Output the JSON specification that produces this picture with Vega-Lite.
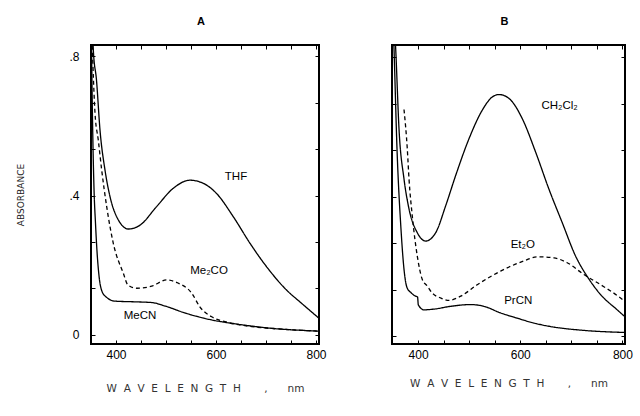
{
  "$schema": "https://vega.github.io/schema/vega-lite/v6.json",
  "background": "white",
  "padding": {"left": 15, "top": 14, "right": 5, "bottom": 5},
  "config": {
    "view": {"stroke": "black", "strokeWidth": 2},
    "font": "Liberation Sans",
    "axis": {"domain": false, "grid": false, "tickColor": "black", "tickWidth": 1, "labelColor": "black", "labelFont": "Liberation Sans", "labelFontSize": 12, "titleFont": "DejaVu Sans", "titleFontWeight": "normal", "titleColor": "#222"},
    "title": {"fontSize": 11, "fontWeight": "bold", "font": "Liberation Sans", "offset": 18}
  },
  "datasets": {
    "curves": [
      {"panel":"A","solvent":"THF","nm":352,"abs":0.92},
      {"panel":"A","solvent":"THF","nm":354.7,"abs":0.817},
      {"panel":"A","solvent":"THF","nm":361,"abs":0.731},
      {"panel":"A","solvent":"THF","nm":368,"abs":0.588},
      {"panel":"A","solvent":"THF","nm":378,"abs":0.473},
      {"panel":"A","solvent":"THF","nm":388,"abs":0.397},
      {"panel":"A","solvent":"THF","nm":404.7,"abs":0.33},
      {"panel":"A","solvent":"THF","nm":424.7,"abs":0.304},
      {"panel":"A","solvent":"THF","nm":448,"abs":0.315},
      {"panel":"A","solvent":"THF","nm":481,"abs":0.368},
      {"panel":"A","solvent":"THF","nm":514.7,"abs":0.421},
      {"panel":"A","solvent":"THF","nm":548,"abs":0.444},
      {"panel":"A","solvent":"THF","nm":574.7,"abs":0.435},
      {"panel":"A","solvent":"THF","nm":601,"abs":0.406},
      {"panel":"A","solvent":"THF","nm":634.7,"abs":0.339},
      {"panel":"A","solvent":"THF","nm":668,"abs":0.263},
      {"panel":"A","solvent":"THF","nm":701,"abs":0.196},
      {"panel":"A","solvent":"THF","nm":741,"abs":0.129},
      {"panel":"A","solvent":"THF","nm":771,"abs":0.091},
      {"panel":"A","solvent":"THF","nm":805,"abs":0.049},
      {"panel":"A","solvent":"Me2CO","nm":352,"abs":0.85},
      {"panel":"A","solvent":"Me2CO","nm":358,"abs":0.637},
      {"panel":"A","solvent":"Me2CO","nm":364.6,"abs":0.559},
      {"panel":"A","solvent":"Me2CO","nm":371.4,"abs":0.473},
      {"panel":"A","solvent":"Me2CO","nm":381.4,"abs":0.368},
      {"panel":"A","solvent":"Me2CO","nm":394.6,"abs":0.263},
      {"panel":"A","solvent":"Me2CO","nm":414.6,"abs":0.177},
      {"panel":"A","solvent":"Me2CO","nm":424,"abs":0.143},
      {"panel":"A","solvent":"Me2CO","nm":441.4,"abs":0.134},
      {"panel":"A","solvent":"Me2CO","nm":471.4,"abs":0.14},
      {"panel":"A","solvent":"Me2CO","nm":501.4,"abs":0.158},
      {"panel":"A","solvent":"Me2CO","nm":524,"abs":0.149},
      {"panel":"A","solvent":"Me2CO","nm":551.4,"abs":0.12},
      {"panel":"A","solvent":"Me2CO","nm":568,"abs":0.08},
      {"panel":"A","solvent":"Me2CO","nm":591.4,"abs":0.052},
      {"panel":"A","solvent":"Me2CO","nm":618,"abs":0.038},
      {"panel":"A","solvent":"Me2CO","nm":671.4,"abs":0.024},
      {"panel":"A","solvent":"Me2CO","nm":738,"abs":0.016},
      {"panel":"A","solvent":"Me2CO","nm":805,"abs":0.011},
      {"panel":"A","solvent":"MeCN","nm":350,"abs":0.95},
      {"panel":"A","solvent":"MeCN","nm":353,"abs":0.62},
      {"panel":"A","solvent":"MeCN","nm":356,"abs":0.42},
      {"panel":"A","solvent":"MeCN","nm":359,"abs":0.32},
      {"panel":"A","solvent":"MeCN","nm":362,"abs":0.24},
      {"panel":"A","solvent":"MeCN","nm":366,"abs":0.17},
      {"panel":"A","solvent":"MeCN","nm":372,"abs":0.125},
      {"panel":"A","solvent":"MeCN","nm":381,"abs":0.108},
      {"panel":"A","solvent":"MeCN","nm":398,"abs":0.097},
      {"panel":"A","solvent":"MeCN","nm":438,"abs":0.095},
      {"panel":"A","solvent":"MeCN","nm":471.4,"abs":0.093},
      {"panel":"A","solvent":"MeCN","nm":498,"abs":0.083},
      {"panel":"A","solvent":"MeCN","nm":538,"abs":0.063},
      {"panel":"A","solvent":"MeCN","nm":591.4,"abs":0.043},
      {"panel":"A","solvent":"MeCN","nm":638,"abs":0.032},
      {"panel":"A","solvent":"MeCN","nm":704,"abs":0.02},
      {"panel":"A","solvent":"MeCN","nm":805,"abs":0.011},
      {"panel":"B","solvent":"CH2Cl2","nm":350,"abs":0.98},
      {"panel":"B","solvent":"CH2Cl2","nm":356.2,"abs":0.825},
      {"panel":"B","solvent":"CH2Cl2","nm":362.7,"abs":0.595},
      {"panel":"B","solvent":"CH2Cl2","nm":372.5,"abs":0.451},
      {"panel":"B","solvent":"CH2Cl2","nm":382.3,"abs":0.365},
      {"panel":"B","solvent":"CH2Cl2","nm":398.5,"abs":0.297},
      {"panel":"B","solvent":"CH2Cl2","nm":414.9,"abs":0.273},
      {"panel":"B","solvent":"CH2Cl2","nm":434.5,"abs":0.297},
      {"panel":"B","solvent":"CH2Cl2","nm":454,"abs":0.374},
      {"panel":"B","solvent":"CH2Cl2","nm":473.6,"abs":0.461},
      {"panel":"B","solvent":"CH2Cl2","nm":499.6,"abs":0.566},
      {"panel":"B","solvent":"CH2Cl2","nm":525.6,"abs":0.648},
      {"panel":"B","solvent":"CH2Cl2","nm":545.2,"abs":0.686},
      {"panel":"B","solvent":"CH2Cl2","nm":558.3,"abs":0.693},
      {"panel":"B","solvent":"CH2Cl2","nm":577.9,"abs":0.682},
      {"panel":"B","solvent":"CH2Cl2","nm":603.9,"abs":0.624},
      {"panel":"B","solvent":"CH2Cl2","nm":630.1,"abs":0.528},
      {"panel":"B","solvent":"CH2Cl2","nm":656.1,"abs":0.422},
      {"panel":"B","solvent":"CH2Cl2","nm":682.1,"abs":0.326},
      {"panel":"B","solvent":"CH2Cl2","nm":708.3,"abs":0.23},
      {"panel":"B","solvent":"CH2Cl2","nm":734,"abs":0.165},
      {"panel":"B","solvent":"CH2Cl2","nm":757,"abs":0.12},
      {"panel":"B","solvent":"CH2Cl2","nm":789.7,"abs":0.076},
      {"panel":"B","solvent":"CH2Cl2","nm":805,"abs":0.056},
      {"panel":"B","solvent":"Et2O","nm":372.5,"abs":0.65},
      {"panel":"B","solvent":"Et2O","nm":378.9,"abs":0.538},
      {"panel":"B","solvent":"Et2O","nm":382.3,"abs":0.451},
      {"panel":"B","solvent":"Et2O","nm":388.7,"abs":0.345},
      {"panel":"B","solvent":"Et2O","nm":398.5,"abs":0.23},
      {"panel":"B","solvent":"Et2O","nm":408.3,"abs":0.163},
      {"panel":"B","solvent":"Et2O","nm":418.1,"abs":0.144},
      {"panel":"B","solvent":"Et2O","nm":427.8,"abs":0.124},
      {"panel":"B","solvent":"Et2O","nm":444.3,"abs":0.11},
      {"panel":"B","solvent":"Et2O","nm":460.5,"abs":0.103},
      {"panel":"B","solvent":"Et2O","nm":483.4,"abs":0.115},
      {"panel":"B","solvent":"Et2O","nm":515.9,"abs":0.148},
      {"panel":"B","solvent":"Et2O","nm":561.6,"abs":0.187},
      {"panel":"B","solvent":"Et2O","nm":607.2,"abs":0.216},
      {"panel":"B","solvent":"Et2O","nm":633.2,"abs":0.228},
      {"panel":"B","solvent":"Et2O","nm":665.9,"abs":0.225},
      {"panel":"B","solvent":"Et2O","nm":691.9,"abs":0.211},
      {"panel":"B","solvent":"Et2O","nm":724.6,"abs":0.177},
      {"panel":"B","solvent":"Et2O","nm":757.2,"abs":0.148},
      {"panel":"B","solvent":"Et2O","nm":796.3,"abs":0.11},
      {"panel":"B","solvent":"Et2O","nm":805,"abs":0.1},
      {"panel":"B","solvent":"PrCN","nm":350,"abs":0.95},
      {"panel":"B","solvent":"PrCN","nm":352.9,"abs":0.826},
      {"panel":"B","solvent":"PrCN","nm":358.8,"abs":0.537},
      {"panel":"B","solvent":"PrCN","nm":366.6,"abs":0.307},
      {"panel":"B","solvent":"PrCN","nm":372.5,"abs":0.192},
      {"panel":"B","solvent":"PrCN","nm":378.3,"abs":0.14},
      {"panel":"B","solvent":"PrCN","nm":386.2,"abs":0.125},
      {"panel":"B","solvent":"PrCN","nm":395.4,"abs":0.115},
      {"panel":"B","solvent":"PrCN","nm":399,"abs":0.113},
      {"panel":"B","solvent":"PrCN","nm":400.5,"abs":0.09},
      {"panel":"B","solvent":"PrCN","nm":411.6,"abs":0.076},
      {"panel":"B","solvent":"PrCN","nm":431.2,"abs":0.078},
      {"panel":"B","solvent":"PrCN","nm":463.8,"abs":0.086},
      {"panel":"B","solvent":"PrCN","nm":502.9,"abs":0.091},
      {"panel":"B","solvent":"PrCN","nm":529,"abs":0.086},
      {"panel":"B","solvent":"PrCN","nm":561.6,"abs":0.067},
      {"panel":"B","solvent":"PrCN","nm":594.1,"abs":0.052},
      {"panel":"B","solvent":"PrCN","nm":626.8,"abs":0.038},
      {"panel":"B","solvent":"PrCN","nm":659.4,"abs":0.028},
      {"panel":"B","solvent":"PrCN","nm":724.6,"abs":0.017},
      {"panel":"B","solvent":"PrCN","nm":805,"abs":0.011}
    ],
    "labels": [
      {"panel":"A","text":"THF","nm":640,"abs":0.453},
      {"panel":"A","text":"Me₂CO","nm":586,"abs":0.184},
      {"panel":"A","text":"MeCN","nm":448,"abs":0.055},
      {"panel":"B","text":"CH₂Cl₂","nm":677,"abs":0.661},
      {"panel":"B","text":"Et₂O","nm":605,"abs":0.261},
      {"panel":"B","text":"PrCN","nm":596,"abs":0.102}
    ]
  },
  "hconcat": [
    {
      "width": 228,
      "height": 299,
      "title": {"text": "A", "dx": -4},
      "layer": [
        {
          "data": {"name": "curves"},
          "transform": [{"filter": "datum.panel === 'A'"}],
          "mark": {"type": "line", "clip": true, "color": "black", "strokeWidth": 1.3, "interpolate": "monotone"},
          "encoding": {
            "x": {"field": "nm", "type": "quantitative", "scale": {"domain": [350, 806], "nice": false},
              "axis": {"orient": "bottom", "values": [400,450,500,550,600,650,700,750,800], "labelExpr": "datum.value % 200 === 0 ? datum.label : ''", "tickSize": -4, "labelPadding": 9, "title": "W\u00a0\u00a0A\u00a0\u00a0V\u00a0\u00a0E\u00a0\u00a0L\u00a0\u00a0E\u00a0\u00a0N\u00a0\u00a0G\u00a0\u00a0T\u00a0\u00a0H\u00a0\u00a0\u00a0\u00a0\u00a0\u00a0\u00a0,\u00a0\u00a0\u00a0\u00a0\u00a0\u00a0nm", "titleFontSize": 10.5, "titleColor": "#333", "titlePadding": 23}},
            "y": {"field": "abs", "type": "quantitative", "scale": {"domain": [-0.026, 0.832], "nice": false, "zero": false},
              "axis": {"orient": "left", "values": [0, 0.13333, 0.26667, 0.4, 0.53333, 0.66667, 0.8], "labelExpr": "datum.value === 0 ? '0' : datum.value === 0.4 ? '.4' : datum.value === 0.8 ? '.8' : ''", "tickSize": -4, "labelPadding": 16, "title": "ABSORBANCE", "titleFontSize": 9, "minExtent": 26, "maxExtent": 26, "titlePadding": 40}},
            "detail": {"field": "solvent"},
            "strokeDash": {"field": "solvent", "type": "nominal", "scale": {"domain": ["THF", "Me2CO", "MeCN"], "range": [[1, 0], [4, 3], [1, 0]]}, "legend": null}
          }
        },
        {
          "data": {"name": "labels"},
          "transform": [{"filter": "datum.panel === 'A'"}],
          "mark": {"type": "text", "fontSize": 11.5, "font": "Liberation Sans", "color": "black"},
          "encoding": {
            "x": {"field": "nm", "type": "quantitative", "scale": {"domain": [350, 806], "nice": false},
              "axis": {"orient": "top", "values": [400,450,500,550,600,650,700,750,800], "labels": false, "tickSize": -4, "title": null, "minExtent": 0, "maxExtent": 0}},
            "y": {"field": "abs", "type": "quantitative", "scale": {"domain": [-0.026, 0.832], "nice": false, "zero": false},
              "axis": {"orient": "right", "values": [0, 0.13333, 0.26667, 0.4, 0.53333, 0.66667, 0.8], "labels": false, "tickSize": -4, "title": null, "minExtent": 0, "maxExtent": 0}},
            "text": {"field": "text"}
          }
        }
      ],
      "resolve": {"axis": {"x": "independent", "y": "independent"}}
    },
    {
      "width": 233,
      "height": 299,
      "title": {"text": "B", "dx": -4},
      "layer": [
        {
          "data": {"name": "curves"},
          "transform": [{"filter": "datum.panel === 'B'"}],
          "mark": {"type": "line", "clip": true, "color": "black", "strokeWidth": 1.3, "interpolate": "monotone"},
          "encoding": {
            "x": {"field": "nm", "type": "quantitative", "scale": {"domain": [349, 805], "nice": false},
              "axis": {"orient": "bottom", "values": [400,450,500,550,600,650,700,750,800], "labelExpr": "datum.value % 200 === 0 ? datum.label : ''", "tickSize": -4, "labelPadding": 9, "title": "W\u00a0\u00a0A\u00a0\u00a0V\u00a0\u00a0E\u00a0\u00a0L\u00a0\u00a0E\u00a0\u00a0N\u00a0\u00a0G\u00a0\u00a0T\u00a0\u00a0H\u00a0\u00a0\u00a0\u00a0\u00a0\u00a0\u00a0,\u00a0\u00a0\u00a0\u00a0\u00a0\u00a0nm", "titleFontSize": 10.5, "titleColor": "#333", "titlePadding": 18}},
            "y": {"field": "abs", "type": "quantitative", "scale": {"domain": [-0.022, 0.835], "nice": false, "zero": false},
              "axis": {"orient": "left", "values": [0, 0.13333, 0.26667, 0.4, 0.53333, 0.66667, 0.8], "labels": false, "tickSize": -4, "title": null, "minExtent": 0, "maxExtent": 0}},
            "detail": {"field": "solvent"},
            "strokeDash": {"field": "solvent", "type": "nominal", "scale": {"domain": ["CH2Cl2", "Et2O", "PrCN"], "range": [[1, 0], [4, 3], [1, 0]]}, "legend": null}
          }
        },
        {
          "data": {"name": "labels"},
          "transform": [{"filter": "datum.panel === 'B'"}],
          "mark": {"type": "text", "fontSize": 11.5, "font": "Liberation Sans", "color": "black"},
          "encoding": {
            "x": {"field": "nm", "type": "quantitative", "scale": {"domain": [349, 805], "nice": false},
              "axis": {"orient": "top", "values": [400,450,500,550,600,650,700,750,800], "labels": false, "tickSize": -4, "title": null, "minExtent": 0, "maxExtent": 0}},
            "y": {"field": "abs", "type": "quantitative", "scale": {"domain": [-0.022, 0.835], "nice": false, "zero": false},
              "axis": {"orient": "right", "values": [0, 0.13333, 0.26667, 0.4, 0.53333, 0.66667, 0.8], "labels": false, "tickSize": -4, "title": null, "minExtent": 0, "maxExtent": 0}},
            "text": {"field": "text"}
          }
        }
      ],
      "resolve": {"axis": {"x": "independent", "y": "independent"}}
    }
  ],
  "spacing": 62
}
